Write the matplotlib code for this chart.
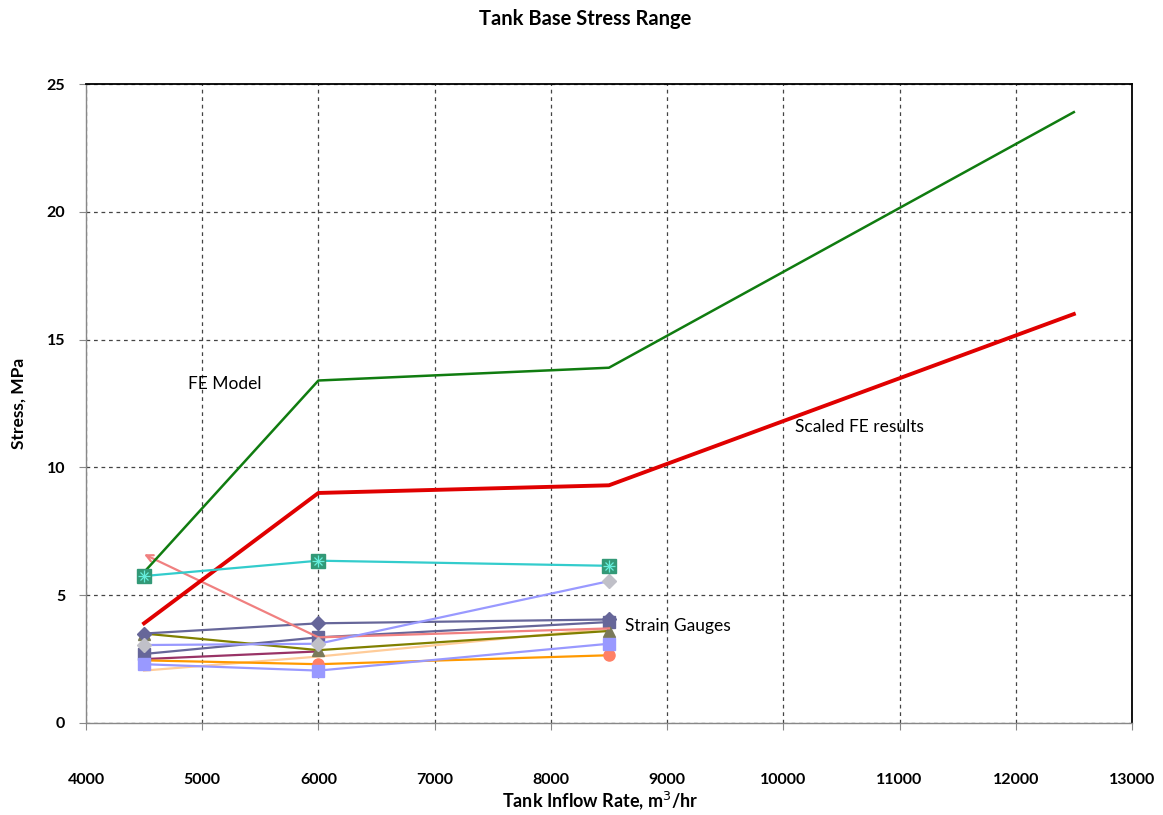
import numpy as np
import matplotlib
matplotlib.use("Agg")
import matplotlib.pyplot as plt

plt.rcParams['font.family'] = ['Lato', 'DejaVu Sans']

# Flow rates (m3/hr)
fe_flow = [4500, 6000, 8500, 12500]
gauge_flow = [4500, 6000, 8500]

# Finite element results (MPa)
fe_model = [5.9, 13.4, 13.9, 23.9]
fe_scaled = [3.9, 9.0, 9.3, 16.0]

# Strain gauge readings (MPa)
sg_cyan = [5.75, 6.35, 6.15]
sg_salmon = [6.6, 3.35, 3.7]
sg_slate_diamond = [3.5, 3.9, 4.05]
sg_olive = [3.5, 2.85, 3.6]
sg_lilac = [3.05, 3.1, 5.55]
sg_slate_square = [2.7, 3.35, 3.95]
sg_maroon = [2.5, 2.8, np.nan]
sg_orange = [2.45, 2.3, 2.65]
sg_periwinkle = [2.3, 2.05, 3.1]
sg_peach = [2.05, 2.6, 3.7]

x_ticks = [4000, 5000, 6000, 7000, 8000, 9000, 10000, 11000, 12000, 13000]
y_ticks = [0, 5, 10, 15, 20, 25]

fig = plt.figure(figsize=(11.63, 8.15), dpi=100)
ax = fig.add_axes([0.0739, 0.1129, 0.8994, 0.784])

ax.set_xlim(4000, 13000)
ax.set_ylim(0, 25)
ax.set_xticks(x_ticks)
ax.set_yticks(y_ticks)
ax.grid(True, color='#444444', linestyle=(0, (3, 3)), linewidth=0.9)
ax.set_axisbelow(True)

for side in ['top', 'right']:
    ax.spines[side].set_color('black')
    ax.spines[side].set_linewidth(1.3)
for side in ['left', 'bottom']:
    ax.spines[side].set_color('#888888')
    ax.spines[side].set_linewidth(1.0)

ax.tick_params(axis='x', direction='out', length=5, color='#888888', pad=31,
               labelsize=11.5)
ax.tick_params(axis='y', direction='out', length=5, color='#888888', pad=10,
               labelsize=11.5)
for lab in ax.get_xticklabels() + ax.get_yticklabels():
    lab.set_fontweight('bold')

# Strain gauge series
ax.plot(gauge_flow, sg_peach, color='#FFCC99', lw=1.6, zorder=3)
ax.plot(gauge_flow, sg_maroon, color='#993366', lw=1.6, marker='^', ms=6,
        mfc='#993366', mec='#993366', zorder=3)
ax.plot(gauge_flow, sg_orange, color='#FF9900', lw=1.6, marker='o', ms=8,
        mfc='#FF8066', mec='#FF8066', zorder=3)
ax.plot(gauge_flow, sg_periwinkle, color='#9999FF', lw=1.6, marker='s', ms=9,
        mfc='#9999FF', mec='#9999FF', zorder=4)
ax.plot(gauge_flow, sg_slate_square, color='#666699', lw=1.6, marker='s', ms=9,
        mfc='#666699', mec='#666699', zorder=3)
ax.plot(gauge_flow, sg_olive, color='#808000', lw=1.6, marker='^', ms=8,
        mfc='#7A7A5A', mec='#7A7A5A', zorder=3)
ax.plot(gauge_flow, sg_lilac, color='#9999FF', lw=1.6, marker='D', ms=7,
        mfc='#C0C0C8', mec='#C0C0C8', zorder=4)
ax.plot(gauge_flow, sg_slate_diamond, color='#666699', lw=1.6, marker='D', ms=7,
        mfc='#666699', mec='#666699', zorder=3)

# Salmon gauge, open arrowhead at its first reading
ax.plot(gauge_flow[1:], sg_salmon[1:], color='#F08080', lw=1.6, zorder=3)
ax.annotate('', xy=(gauge_flow[0], sg_salmon[0]),
            xytext=(gauge_flow[1], sg_salmon[1]),
            arrowprops=dict(arrowstyle='->', color='#F08080', lw=1.6,
                            mutation_scale=12, shrinkA=0, shrinkB=0),
            zorder=3)

ax.plot(gauge_flow, sg_cyan, color='#33CCCC', lw=1.6, marker='s', ms=10,
        mfc='#339977', mec='#339977', zorder=5)
ax.plot(gauge_flow, sg_cyan, linestyle='none', marker='+', ms=8,
        mec='#66EEDD', mew=0.9, zorder=6)
ax.plot(gauge_flow, sg_cyan, linestyle='none', marker='x', ms=6,
        mec='#66EEDD', mew=0.9, zorder=6)

# Finite element curves
ax.plot(fe_flow, fe_model, color='#107C10', lw=1.8, zorder=4)
ax.plot(fe_flow, fe_scaled, color='#E00000', lw=2.8, zorder=4)

ax.text(4880, 13.25, 'FE Model', fontsize=12.5, va='center', ha='left')
ax.text(10100, 11.6, 'Scaled FE results', fontsize=12.5, va='center', ha='left')
ax.text(8640, 3.8, 'Strain Gauges', fontsize=12.5, va='center', ha='left')

fig.text(0.503, 0.977, 'Tank Base Stress Range', fontsize=14.5, fontweight='bold',
         ha='center', va='center')
fig.text(0.516, 0.017, 'Tank Inflow Rate, m$^3$/hr', fontsize=13,
         fontweight='bold', ha='center', va='center')
fig.text(0.016, 0.505, 'Stress, MPa', fontsize=12.5, fontweight='bold',
         rotation=90, ha='center', va='center')

fig.savefig('out.png', dpi=100)
